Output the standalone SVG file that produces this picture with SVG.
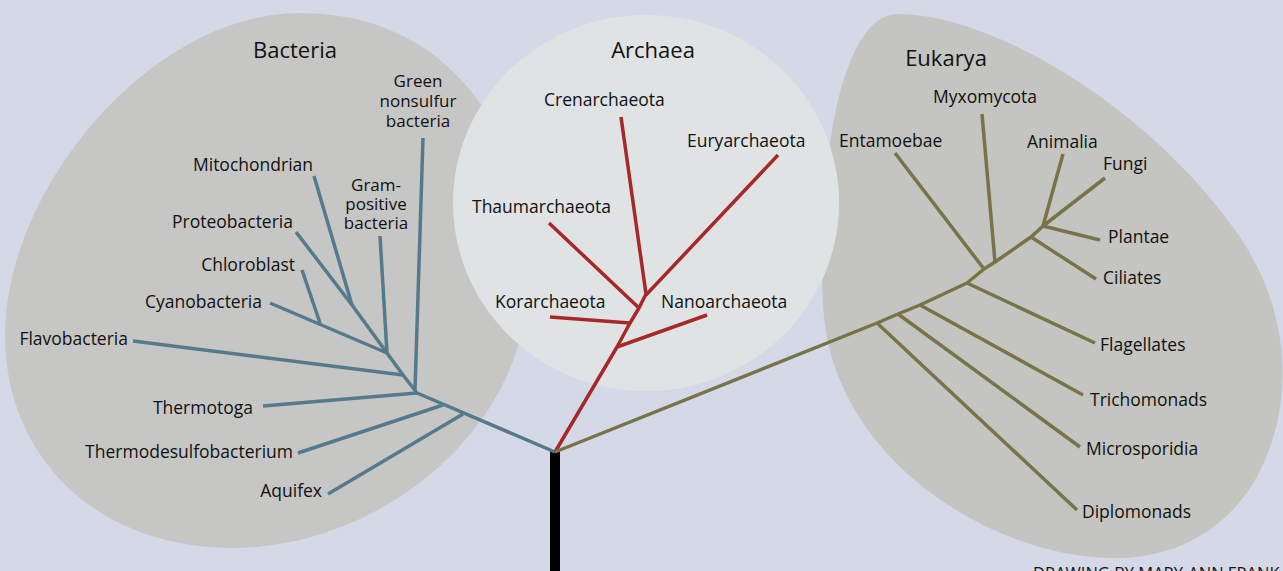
<svg xmlns="http://www.w3.org/2000/svg" width="1283" height="571" viewBox="0 0 1283 571">
<style>
text{font-family:"Open Sans","Noto Sans","Liberation Sans",sans-serif;font-size:17.5px;fill:#111;}
.title{font-size:22px;}
.stack{font-size:17px;}
.credit{font-size:16.5px;}
.b{stroke:#557a8c;stroke-width:3.5;fill:none;stroke-linecap:butt;stroke-linejoin:round;}
.a{stroke:#a6282b;stroke-width:3.5;fill:none;stroke-linejoin:round;}
.e{stroke:#79734a;stroke-width:3.5;fill:none;stroke-linejoin:round;}
.end{text-anchor:end;}
.mid{text-anchor:middle;}
</style>
<rect x="0" y="0" width="1283" height="571" fill="#d5d9e7"/>
<g id="bacteria-region">
<path d="M300,13 C460,13 535,150 528,285 C525,430 380,548 232,548 C100,548 5,460 5,335 C5,190 150,13 300,13 Z" fill="#c6c7c5"/>
</g>
<g id="eukarya-region">
<path d="M822,270 C822,120 850,14 898,14 C995,14 1150,110 1235,230 C1300,320 1290,420 1255,480 C1220,540 1160,560 1110,558 C1000,555 880,480 840,380 C825,345 822,310 822,270 Z" fill="#c4c5c1"/>
</g>
<g id="archaea-region">
<ellipse cx="646" cy="203" rx="193" ry="188" fill="#e0e3e4"/>
</g>
<g id="connectors">
<rect x="550" y="450" width="10" height="121" fill="#000"/>
<g class="b-lines">
<polyline class="b" points="555,452 417,393 403,375 387,353 352,305 296,232"/>
<line class="b" x1="463" y1="414" x2="328" y2="494"/>
<line class="b" x1="443" y1="405" x2="298" y2="453"/>
<line class="b" x1="417" y1="393" x2="263" y2="406"/>
<line class="b" x1="415" y1="390" x2="423" y2="138"/>
<line class="b" x1="403" y1="375" x2="133" y2="341"/>
<line class="b" x1="387" y1="353" x2="380" y2="236"/>
<line class="b" x1="387" y1="353" x2="270" y2="303"/>
<line class="b" x1="320" y1="323" x2="302" y2="270"/>
<line class="b" x1="352" y1="305" x2="314" y2="176"/>
</g>
<g class="a-lines">
<polyline class="a" points="555,452 617,347 630,323 639,308 646,294 621,117"/>
<line class="a" x1="646" y1="295" x2="778" y2="155"/>
<line class="a" x1="639" y1="308" x2="549" y2="223"/>
<line class="a" x1="630" y1="323" x2="550" y2="317"/>
<line class="a" x1="617" y1="347" x2="707" y2="315"/>
</g>
<g class="e-lines">
<polyline class="e" points="555,452 877,323 898,314 920,305 967,283 984,269 995,262 1031,237 1043,226 1105,178"/>
<line class="e" x1="877" y1="323" x2="1077" y2="510"/>
<line class="e" x1="898" y1="314" x2="1080" y2="447"/>
<line class="e" x1="920" y1="305" x2="1083" y2="395"/>
<line class="e" x1="967" y1="283" x2="1095" y2="343"/>
<line class="e" x1="984" y1="269" x2="895" y2="153"/>
<line class="e" x1="995" y1="262" x2="982" y2="114"/>
<line class="e" x1="1031" y1="237" x2="1096" y2="279"/>
<line class="e" x1="1043" y1="226" x2="1063" y2="154"/>
<line class="e" x1="1043" y1="226" x2="1100" y2="240"/>
</g>
</g>
<g id="label-bacteria"><text class="title mid" x="295" y="58">Bacteria</text></g>
<g id="label-archaea"><text class="title mid" x="653" y="58">Archaea</text></g>
<g id="label-eukarya"><text class="title mid" x="946" y="66">Eukarya</text></g>
<g id="node-green-nonsulfur"><text class="stack mid" x="418" y="87"><tspan x="418" y="87">Green</tspan><tspan x="418" y="107">nonsulfur</tspan><tspan x="418" y="127">bacteria</tspan></text></g>
<g id="node-mitochondrian"><text class="end" x="313" y="171">Mitochondrian</text></g>
<g id="node-gram-positive"><text class="stack mid" x="376" y="191"><tspan x="376" y="191">Gram-</tspan><tspan x="376" y="210">positive</tspan><tspan x="376" y="229">bacteria</tspan></text></g>
<g id="node-proteobacteria"><text class="end" x="293" y="228">Proteobacteria</text></g>
<g id="node-chloroblast"><text class="end" x="295" y="271">Chloroblast</text></g>
<g id="node-cyanobacteria"><text class="end" x="262" y="308">Cyanobacteria</text></g>
<g id="node-flavobacteria"><text class="end" x="128" y="345">Flavobacteria</text></g>
<g id="node-thermotoga"><text class="end" x="253" y="414">Thermotoga</text></g>
<g id="node-thermodesulfobacterium"><text class="end" x="293" y="458">Thermodesulfobacterium</text></g>
<g id="node-aquifex"><text class="end" x="322" y="497">Aquifex</text></g>
<g id="node-crenarchaeota"><text x="544" y="106">Crenarchaeota</text></g>
<g id="node-euryarchaeota"><text x="687" y="147">Euryarchaeota</text></g>
<g id="node-thaumarchaeota"><text x="472" y="213">Thaumarchaeota</text></g>
<g id="node-korarchaeota"><text x="495" y="308">Korarchaeota</text></g>
<g id="node-nanoarchaeota"><text x="661" y="308">Nanoarchaeota</text></g>
<g id="node-entamoebae"><text x="839" y="147">Entamoebae</text></g>
<g id="node-myxomycota"><text x="933" y="103">Myxomycota</text></g>
<g id="node-animalia"><text x="1027" y="148">Animalia</text></g>
<g id="node-fungi"><text x="1103" y="170">Fungi</text></g>
<g id="node-plantae"><text x="1108" y="243">Plantae</text></g>
<g id="node-ciliates"><text x="1103" y="284">Ciliates</text></g>
<g id="node-flagellates"><text x="1100" y="351">Flagellates</text></g>
<g id="node-trichomonads"><text x="1090" y="406">Trichomonads</text></g>
<g id="node-microsporidia"><text x="1086" y="455">Microsporidia</text></g>
<g id="node-diplomonads"><text x="1082" y="518">Diplomonads</text></g>
<g id="credit"><text class="credit" x="1033" y="579">DRAWING BY MARY-ANN FRANK</text></g>
</svg>
